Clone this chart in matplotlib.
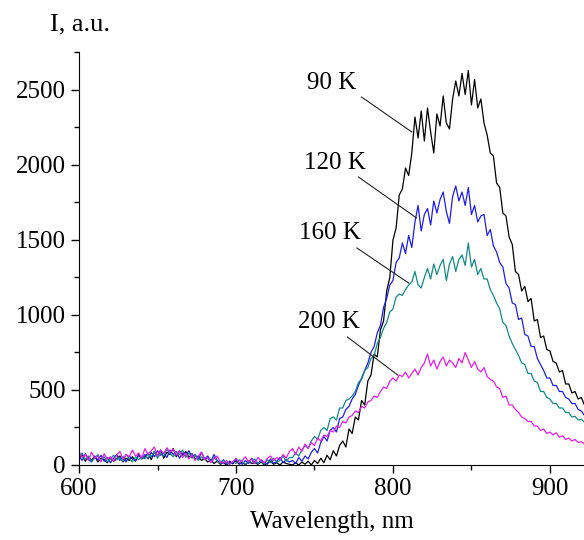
import numpy as np
import matplotlib
matplotlib.use("Agg")
import matplotlib.pyplot as plt
from matplotlib.ticker import MultipleLocator

plt.rcParams['font.family'] = ['Liberation Serif', 'DejaVu Serif']

# wavelength grid, nm (2 nm step, 600..922)
wavelength = np.arange(600, 923, 2)

# PL intensity, a.u.
i_90K = [40, 70, 25, 55, 30, 60, 20, 45, 35, 15, 50, 25, 40, 60, 20, 45, 30, 55, 25, 70, 40,
         55, 80, 35, 90, 60, 100, 45, 85, 70, 110, 55, 95, 65, 90, 50, 75, 40, 60, 30, 45,
         20, 35, 10, 25, 5, 15, 0, 20, 8, 30, 5, 18, 0, 25, 10, 15, 5, 20, 0, 12, 25, 5, 15, 0, 20, 10, 5,
         0, 15, 0, 20, 5, 25, 0, 30, 10, 45, 15, 65, 35, 95, 60, 130,
         160, 120, 240, 210, 320, 300, 430, 400, 560, 600, 740, 720, 900, 960, 1160, 1250,
         1500, 1580, 1800, 1840, 1980, 1930, 2080, 2320, 2180, 2360, 2160, 2380, 2220, 2080, 2340, 2260,
         2460, 2280, 2240, 2440, 2560, 2460, 2610, 2470, 2630, 2400, 2570, 2380, 2440, 2280, 2200, 2080,
         2060, 1880, 1850, 1680, 1660, 1520, 1470, 1290, 1270, 1160, 1190, 1090, 1110, 960, 970, 850,
         860, 770, 760, 690, 680, 620, 630, 540, 540, 480, 490, 440, 450, 400]

i_120K = [60, 30, 75, 40, 20, 55, 35, 65, 25, 50, 15, 45, 70, 30, 55, 20, 60, 40, 30, 65, 45,
          70, 40, 85, 55, 95, 65, 80, 50, 100, 70, 90, 45, 80, 60, 95, 55, 70, 35, 85, 40,
          60, 25, 70, 30, 15, 35, 5, 25, 10, 40, 15, 5, 30, 10, 45, 20, 8, 35, 15, 5, 40, 10, 25, 50, 15, 35, 20,
          30, 10, 50, 25, 60, 40, 85, 110, 80, 150, 190, 160, 230, 250, 220, 310,
          320, 370, 390, 440, 470, 530, 580, 630, 680, 750, 790, 880, 930, 1050, 1110, 1200,
          1230, 1350, 1380, 1480, 1410, 1530, 1450, 1620, 1730, 1560, 1670, 1710, 1600, 1760, 1680, 1770,
          1820, 1690, 1610, 1790, 1860, 1760, 1820, 1730, 1850, 1670, 1730, 1620, 1660, 1670, 1530, 1570,
          1460, 1420, 1350, 1320, 1210, 1180, 1080, 1070, 970, 980, 870, 860, 790, 790, 710, 670,
          630, 580, 580, 530, 530, 490, 490, 450, 440, 410, 410, 370, 360, 330]

i_160K = [50, 80, 35, 60, 25, 45, 70, 30, 55, 20, 40, 65, 35, 50, 25, 70, 45, 20, 55, 35, 60,
          40, 75, 55, 90, 45, 80, 60, 105, 75, 55, 90, 70, 100, 50, 80, 45, 65, 30, 55, 35,
          45, 20, 55, 25, 10, 30, 15, 5, 25, 10, 35, 20, 5, 30, 15, 40, 10, 25, 5, 35, 15, 45, 20, 30, 60, 25, 50,
          50, 80, 60, 100, 130, 110, 160, 190, 170, 230, 250, 230, 310, 320, 300, 380,
          380, 430, 440, 460, 490, 550, 570, 630, 650, 710, 730, 810, 850, 910, 950, 1020,
          1040, 1120, 1140, 1130, 1170, 1200, 1220, 1290, 1200, 1180, 1250, 1310, 1240, 1340, 1270, 1330,
          1370, 1230, 1340, 1390, 1290, 1370, 1400, 1330, 1480, 1320, 1370, 1270, 1310, 1240, 1240, 1170,
          1130, 1080, 1040, 950, 930, 860, 810, 770, 730, 680, 670, 610, 610, 560, 550, 490,
          490, 450, 440, 410, 410, 380, 380, 350, 350, 320, 325, 300, 305, 285]

i_200K = [90, 50, 70, 30, 85, 45, 60, 20, 75, 40, 55, 25, 65, 90, 40, 70, 55, 100, 60, 80, 45,
          110, 70, 95, 120, 60, 100, 75, 115, 85, 105, 65, 95, 50, 80, 40, 70, 30, 60, 85, 35,
          50, 15, 40, 60, 20, 10, 30, 5, 20, 45, 15, 30, 55, 20, 40, 10, 50, 25, 15, 45, 60, 30, 50, 35, 70, 45, 90,
          110, 70, 120, 90, 140, 110, 150, 130, 180, 160, 200, 190, 230, 220, 260, 250,
          290, 280, 320, 330, 360, 350, 390, 380, 420, 430, 460, 450, 490, 520, 510, 560,
          580, 560, 600, 590, 620, 580, 610, 640, 600, 650, 680, 740, 660, 700, 640, 690,
          720, 660, 700, 680, 650, 710, 680, 750, 700, 650, 690, 640, 620, 650, 590, 570,
          560, 520, 510, 450, 460, 400, 400, 370, 350, 320, 310, 290, 290, 260, 260, 230,
          240, 210, 220, 200, 215, 185, 195, 170, 180, 160, 170, 150, 155, 140]

series = [i_90K, i_120K, i_160K, i_200K]
colors = ['#000000', '#1e1ee6', '#128a86', '#e81ee8']
labels = ['90 K', '120 K', '160 K', '200 K']
# label text position and leader line (start, end) in data units
label_xy = [(761, 2547), (763, 2013), (760, 1547), (759, 953)]
leader = [((780, 2453), (812, 2220)),
          ((778, 1920), (815, 1647)),
          ((777, 1447), (810, 1213)),
          ((771, 853), (803, 600))]

fig = plt.figure(figsize=(5.84, 5.4), dpi=100)
ax = fig.add_axes([0.1353, 0.1389, 0.8647, 0.7639])

for y, c in zip(series, colors):
    ax.plot(wavelength, y, color=c, lw=0.9)

for lab, (tx, ty), (p0, p1) in zip(labels, label_xy, leader):
    ax.text(tx, ty, lab, fontsize=18, ha='center', va='center')
    ax.plot([p0[0], p1[0]], [p0[1], p1[1]], color='#222222', lw=0.8)

ax.set_xlim(600, 921.7)
ax.set_ylim(0, 2750)
ax.spines['top'].set_visible(False)
ax.spines['right'].set_visible(False)
ax.xaxis.set_major_locator(MultipleLocator(100))
ax.xaxis.set_minor_locator(MultipleLocator(50))
ax.yaxis.set_major_locator(MultipleLocator(500))
ax.yaxis.set_minor_locator(MultipleLocator(250))
ax.tick_params(which='major', direction='out', length=6, width=1, labelsize=18)
ax.tick_params(which='minor', direction='out', length=3.5, width=1)

ax.set_xlabel('Wavelength, nm', fontsize=18, labelpad=8)
fig.text(0.086, 0.955, 'I, a.u.', fontsize=19, va='center')

fig.savefig('out.png', dpi=100)
